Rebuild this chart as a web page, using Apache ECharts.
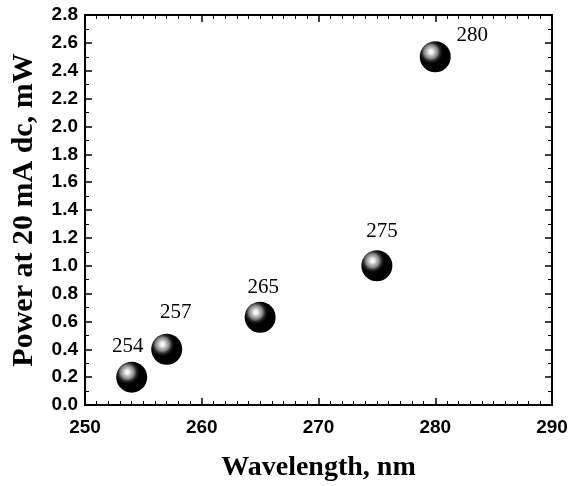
<!DOCTYPE html>
<html>
<head>
<meta charset="utf-8">
<script src="https://cdn.jsdelivr.net/npm/echarts@6/dist/echarts.min.js"></script>
<style>
  html, body { margin: 0; padding: 0; background: #fff; }
  #chart { width: 571px; height: 486px; }
</style>
</head>
<body>
<div id="chart"></div>
<script>
// wavelength (nm) vs optical power (mW)
var wavelengths = [254, 257, 265, 275, 280];
var powers = [0.2, 0.4, 0.63, 1.0, 2.5];
var pointLabels = ['254', '257', '265', '275', '280'];
// label offsets, px
var labelOffsets = [[-4, 0], [9, -6], [3, 1], [5, -3], [37, 10]];

var myChart = echarts.init(document.getElementById('chart'));

var ball = {
  type: 'radial', x: 0.36, y: 0.34, r: 0.66,
  colorStops: [
    { offset: 0, color: '#ffffff' },
    { offset: 0.1, color: '#f0f0f0' },
    { offset: 0.2, color: '#bcbcbc' },
    { offset: 0.33, color: '#868686' },
    { offset: 0.45, color: '#2a2a2a' },
    { offset: 0.58, color: '#000000' },
    { offset: 1, color: '#000000' }
  ]
};

function axisBase(show) {
  return {
    type: 'value',
    axisLine: { show: true, onZero: false, lineStyle: { color: '#000', width: 2 } },
    axisTick: { show: true, inside: true, length: 7, lineStyle: { color: '#000', width: 1.5 } },
    minorTick: { show: true, length: 4, lineStyle: { color: '#000', width: 1 } },
    splitLine: { show: false },
    axisLabel: { show: show, color: '#000', fontFamily: 'Liberation Sans', fontWeight: 'bold', fontSize: 19 }
  };
}

var xBottom = Object.assign(axisBase(true), {
  min: 250, max: 290, interval: 10, position: 'bottom',
  name: 'Wavelength, nm', nameLocation: 'middle', nameGap: 49,
  nameTextStyle: { color: '#000', fontFamily: 'Liberation Serif', fontWeight: 'bold', fontSize: 28 }
});
xBottom.minorTick.splitNumber = 10;
xBottom.axisLabel.margin = 13;

var xTop = Object.assign(axisBase(false), { min: 250, max: 290, interval: 10, position: 'top' });
xTop.minorTick.splitNumber = 10;

var yLeft = Object.assign(axisBase(true), {
  min: 0, max: 2.8, interval: 0.2, position: 'left',
  name: 'Power at 20 mA dc, mW', nameLocation: 'middle', nameGap: 46,
  nameTextStyle: { color: '#000', fontFamily: 'Liberation Serif', fontWeight: 'bold', fontSize: 30 }
});
yLeft.minorTick.splitNumber = 2;
yLeft.axisLabel.margin = 7;
yLeft.axisLabel.formatter = function (v) { return v.toFixed(1); };

var yRight = Object.assign(axisBase(false), { min: 0, max: 2.8, interval: 0.2, position: 'right' });
yRight.minorTick.splitNumber = 2;

var seriesData = wavelengths.map(function (w, i) {
  return {
    value: [w, powers[i]],
    label: { offset: labelOffsets[i] }
  };
});

var option = {
  backgroundColor: '#fff',
  animation: false,
  grid: { left: 85, right: 19, top: 15, bottom: 81, outerBoundsMode: 'none', containLabel: false },
  xAxis: [xBottom, xTop],
  yAxis: [yLeft, yRight],
  series: [{
    type: 'scatter',
    xAxisIndex: 0, yAxisIndex: 0,
    symbol: 'circle',
    symbolSize: 31,
    itemStyle: { color: ball, opacity: 1 },
    label: {
      show: true, position: 'top', distance: 5,
      color: '#000', fontFamily: 'Liberation Serif', fontSize: 21,
      formatter: function (p) { return pointLabels[p.dataIndex]; }
    },
    data: seriesData
  }]
};

option && myChart.setOption(option);
</script>
</body>
</html>
